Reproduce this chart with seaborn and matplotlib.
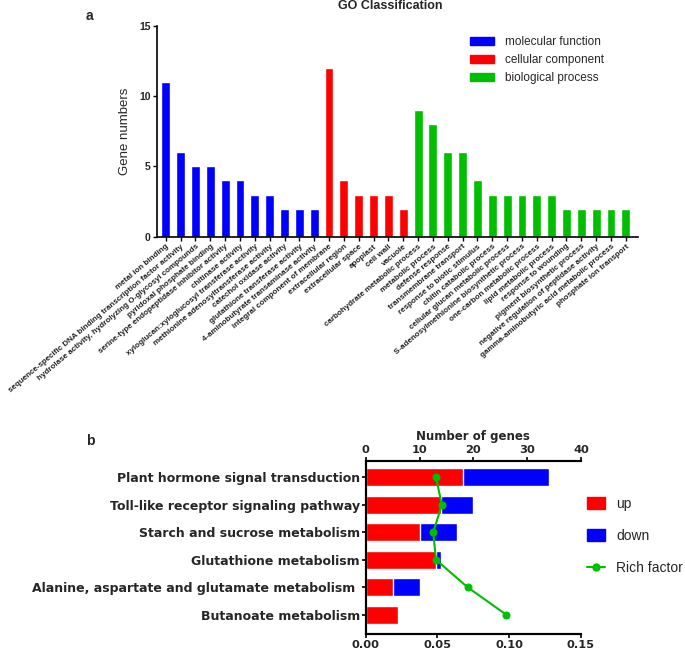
import pandas as pd
import seaborn as sns
import matplotlib.pyplot as plt
import numpy as np
from matplotlib.patches import Patch
from matplotlib.lines import Line2D

# GO classification data (panel a)
mf_terms = ['metal ion binding',
            'sequence-specific DNA binding transcription factor activity',
            'hydrolase activity, hydrolyzing O-glycosyl compounds',
            'pyridoxal phosphate binding',
            'serine-type endopeptidase inhibitor activity',
            'chitinase activity',
            'xyloglucan:xyloglucosyl transferase activity',
            'methionine adenosyltransferase activity',
            'catechol oxidase activity',
            'glutathione transferase activity',
            '4-aminobutyrate transaminase activity']
mf_counts = [11, 6, 5, 5, 4, 4, 3, 3, 2, 2, 2]
cc_terms = ['integral component of membrane', 'extracellular region',
            'extracellular space', 'apoplast', 'cell wall', 'vacuole']
cc_counts = [12, 4, 3, 3, 3, 2]
bp_terms = ['carbohydrate metabolic process', 'metabolic process',
            'defense response', 'transmembrane transport',
            'response to biotic stimulus', 'chitin catabolic process',
            'cellular glucan metabolic process',
            'S-adenosylmethionine biosynthetic process',
            'one-carbon metabolic process', 'lipid metabolic process',
            'response to wounding', 'pigment biosynthetic process',
            'negative regulation of peptidase activity',
            'gamma-aminobutyric acid metabolic process',
            'phosphate ion transport']
bp_counts = [9, 8, 6, 6, 4, 3, 3, 3, 3, 3, 2, 2, 2, 2, 2]

# KEGG pathway data (panel b)
pathways = ['Plant hormone signal transduction',
            'Toll-like receptor signaling pathway',
            'Starch and sucrose metabolism',
            'Glutathione metabolism',
            'Alanine, aspartate and glutamate metabolism ',
            'Butanoate metabolism']
up_genes = [18, 14, 10, 13, 5, 6]
down_genes = [16, 6, 7, 1, 5, 0]
rich_factor = [0.049, 0.053, 0.047, 0.049, 0.071, 0.098]

BLUE, RED, GREEN = '#0000FF', '#FF0000', '#00BF00'

sns.set_style('ticks')
plt.rcParams['font.family'] = ['Liberation Sans', 'DejaVu Sans']

go = pd.DataFrame({
    'term': mf_terms + cc_terms + bp_terms,
    'count': mf_counts + cc_counts + bp_counts,
    'category': (['molecular function'] * len(mf_terms)
                 + ['cellular component'] * len(cc_terms)
                 + ['biological process'] * len(bp_terms)),
})

fig = plt.figure(figsize=(6.85, 6.56), dpi=100)

# ---- panel a
ax = fig.add_axes([0.229, 0.639, 0.702, 0.322])
sns.barplot(data=go, x='term', y='count', hue='category', dodge=False,
            palette=[BLUE, RED, GREEN], width=0.6, saturation=1,
            legend=False, ax=ax)
ax.set_xlim(-0.6, 31.8)
ax.set_ylim(0, 15)
ax.set_yticks([0, 5, 10, 15])
ax.set_xlabel('')
ax.set_ylabel('Gene numbers', fontsize=9.5, labelpad=6)
ax.set_xticks(range(len(go)))
ax.set_xticklabels(go['term'], rotation=40, ha='right', rotation_mode='anchor',
                   fontsize=5.8, fontweight='bold', color='#222222')
ax.set_yticklabels(['0', '5', '10', '15'], fontsize=7.5, fontweight='bold')
ax.tick_params(axis='both', length=3, width=1, pad=1.5, color='black')
for s in ['top', 'right']:
    ax.spines[s].set_visible(False)
for s in ['left', 'bottom']:
    ax.spines[s].set_linewidth(1.2)
    ax.spines[s].set_color('black')
ax.set_title('GO Classification', fontsize=9, fontweight='bold', pad=12,
             x=0.485)
handles_a = [Patch(color=BLUE, label='molecular function'),
             Patch(color=RED, label='cellular component'),
             Patch(color=GREEN, label='biological process')]
ax.legend(handles=handles_a, loc='upper left', bbox_to_anchor=(0.63, 1.0),
          frameon=False, fontsize=8.5, handlelength=2.0, handleheight=0.6,
          labelspacing=0.5, handletextpad=0.9)
fig.text(0.125, 0.975, 'a', fontsize=10, fontweight='bold', va='center')

# ---- panel b
kegg = pd.DataFrame({'pathway': pathways, 'up': up_genes, 'down': down_genes,
                     'rich': rich_factor})
kegg['total'] = kegg['up'] + kegg['down']

bx = fig.add_axes([0.534, 0.034, 0.314, 0.263])
sns.barplot(data=kegg, y='pathway', x='total', color=BLUE, saturation=1,
            width=0.66, orient='h', ax=bx)
sns.barplot(data=kegg, y='pathway', x='up', color=RED, saturation=1,
            width=0.66, orient='h', ax=bx)
bx.set_xlim(0, 40)
bx.set_xticks([0, 10, 20, 30, 40])
bx.set_ylim(5.69, -0.59)
bx.xaxis.tick_top()
bx.xaxis.set_label_position('top')
bx.set_xlabel('Number of genes', fontsize=8.5, fontweight='bold',
              family='DejaVu Sans', labelpad=4)
bx.set_ylabel('')

cx = bx.twiny()
sns.lineplot(x=kegg['rich'], y=np.arange(len(kegg)), orient='y', sort=False,
             color=GREEN, marker='o', markersize=5, markeredgecolor=GREEN,
             linewidth=1.5, ax=cx)
cx.set_xlim(0, 0.15)
cx.set_xticks([0, 0.05, 0.10, 0.15])
cx.set_xticklabels(['0.00', '0.05', '0.10', '0.15'])
cx.xaxis.tick_bottom()
cx.set_xlabel('')
cx.set_ylim(5.69, -0.59)

for a_ in (bx, cx):
    a_.spines['right'].set_visible(False)
    for s in ['left', 'top', 'bottom']:
        a_.spines[s].set_linewidth(1.5)
        a_.spines[s].set_color('black')
    a_.tick_params(axis='both', length=3, width=1.2, pad=1.2, color='black')
cx.tick_params(axis='x', top=False, labeltop=False, bottom=True, labelbottom=True)
bx.tick_params(axis='x', bottom=False, labelbottom=False, top=True, labeltop=True)
for a_ in (bx, cx):
    for t in a_.xaxis.get_major_ticks():
        for lab in (t.label1, t.label2):
            lab.set_fontsize(8.2)
            lab.set_fontweight('bold')
            lab.set_family('DejaVu Sans')
    for t in a_.yaxis.get_major_ticks():
        for lab in (t.label1, t.label2):
            lab.set_fontsize(9)
            lab.set_fontweight('bold')
            lab.set_family('DejaVu Sans')

handles_b = [Patch(color=RED, label='up'), Patch(color=BLUE, label='down'),
             Line2D([], [], color=GREEN, marker='o', markersize=5,
                    linewidth=1.5, label='Rich factor')]
fig.legend(handles=handles_b, loc='center left', bbox_to_anchor=(0.857, 0.183),
           frameon=False, fontsize=10, handlelength=1.3, handleheight=0.9,
           labelspacing=1.3, handletextpad=0.8, borderpad=0, borderaxespad=0)
fig.text(0.125, 0.327, 'b', fontsize=10, fontweight='bold', va='center')

fig.savefig('out.png', dpi=100)
